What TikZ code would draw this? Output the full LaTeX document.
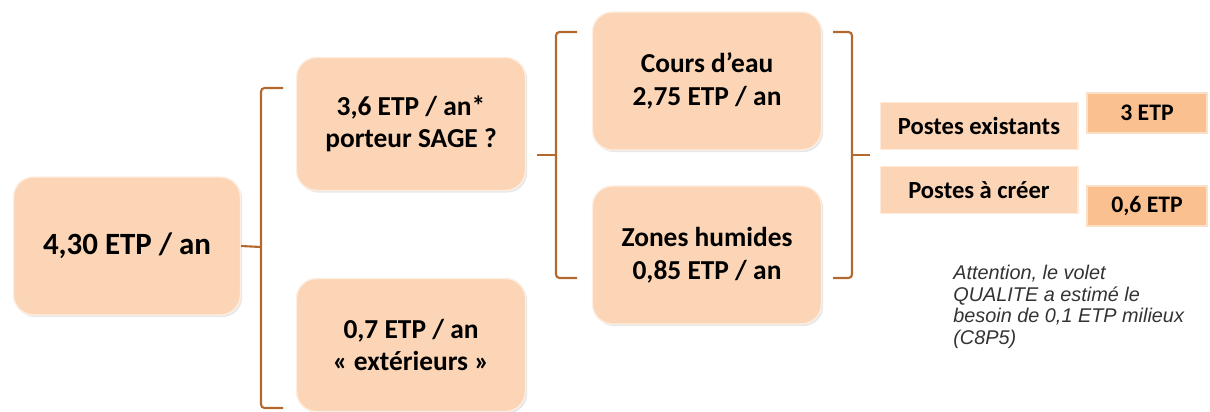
\documentclass[tikz,border=0pt]{standalone}
\usepackage{fontspec}
\setmainfont{Carlito}
\newfontfamily\notefont{Liberation Sans}
\usepackage{xcolor}
\usetikzlibrary{positioning,shadows,calc}
\definecolor{peach}{HTML}{FBD5B5}
\definecolor{apricot}{HTML}{FAC090}
\definecolor{bracebrown}{HTML}{B3692E}

\begin{document}
\begin{tikzpicture}[x=0.02cm, y=-0.02cm,
		etpbox/.style={rounded corners=0.4cm, fill=peach, draw=white!60!peach, line width=0.8pt,
			drop shadow={opacity=0.18, shadow xshift=1pt, shadow yshift=-1.2pt},
			align=center, font=\bfseries\fontsize{15.6}{18.6}\selectfont, inner sep=0pt},
		postebox/.style={fill=peach, draw=white!50!peach, line width=0.6pt, minimum width=3.96cm,
			minimum height=0.94cm, inner sep=0pt, font=\bfseries\fontsize{14}{16}\selectfont},
		valbox/.style={fill=apricot, draw=white!50!apricot, line width=0.6pt, minimum width=2.4cm,
			minimum height=0.8cm, inner sep=0pt, font=\bfseries\fontsize{13.5}{16}\selectfont},
		brace/.style={draw=bracebrown, line width=1.2pt, rounded corners=2pt}]
		\useasboundingbox (0,0) rectangle (1210,412);
		% boites principales
		\node [etpbox, minimum width=4.54cm, minimum height=2.76cm, font=\bfseries\fontsize{17.6}{20}\selectfont] (total) at (127,246) {4,30 ETP / an};
		\node [etpbox, minimum width=4.58cm, minimum height=2.66cm] (porteur) at (411,124) {3,6 ETP / an*\\porteur SAGE ?};
		\node [etpbox, minimum width=4.58cm, minimum height=2.66cm] (ext) at (411,345) {0,7 ETP / an\\« extérieurs »};
		\node [etpbox, minimum width=4.58cm, minimum height=2.76cm] (cours) at (707,81) {Cours d’eau\\2,75 ETP / an};
		\node [etpbox, minimum width=4.58cm, minimum height=2.76cm] (zones) at (707,255) {Zones humides\\0,85 ETP / an};
		% postes
		\node [postebox] (exist) at (979,126) {Postes existants};
		\node [postebox] (creer) at (979,190) {Postes à créer};
		\node [valbox] (trois) at (1147,113) {3 ETP};
		\node [valbox] (six) at (1147,206) {0,6 ETP};
		% accolades
		\coordinate (b1) at (261,247);
		\draw [brace] (283,88) -- (261,88) -- (261,408) -- (283,408);
		\draw [brace] (total.east) -- (b1);
		\coordinate (b2) at (556,155);
		\coordinate (b2in) at (537,155);
		\draw [brace] (577,32) -- (556,32) -- (556,278) -- (577,278);
		\draw [brace] (b2in) -- (b2);
		\coordinate (b3) at (852,155);
		\coordinate (b3out) at (870,155);
		\draw [brace] (833,32) -- (852,32) -- (852,278) -- (833,278);
		\draw [brace] (b3) -- (b3out);
		% remarque
		\node [anchor=north west, inner sep=0pt, align=left, text=black!80,
			font=\notefont\itshape\fontsize{11.3}{12.3}\selectfont] (note) at (953,265)
			{Attention, le volet\\QUALITE a estimé le\\besoin de 0,1 ETP milieux\\(C8P5)};
	\end{tikzpicture}
\end{document}
